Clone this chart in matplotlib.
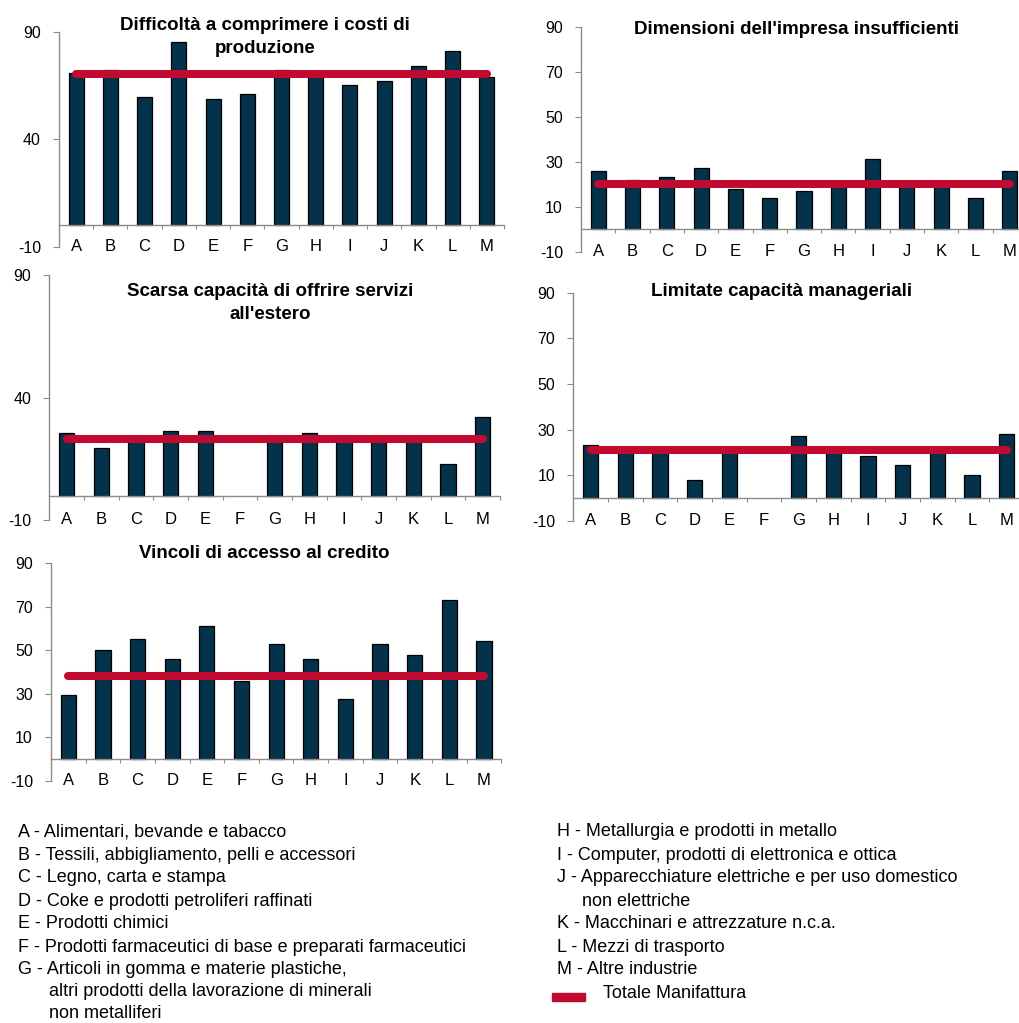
import numpy as np
import matplotlib
matplotlib.use('Agg')
import matplotlib.pyplot as plt
from matplotlib.patches import Rectangle

plt.rcParams['font.family'] = ['Liberation Sans', 'DejaVu Sans']

# ---------------- data ----------------
categories = ['A', 'B', 'C', 'D', 'E', 'F', 'G', 'H', 'I', 'J', 'K', 'L', 'M']

costi = [71, 72, 59.7, 85.4, 58.8, 60.8, 72, 70.5, 65, 67, 74, 81, 69]
costi_tot = 70.3

dimensioni = [26, 22, 23, 27, 18, 14, 17, 20, 31, 20, 20, 14, 26]
dimensioni_tot = 20.3

servizi = [25.5, 19.2, 23.5, 26.5, 26.5, np.nan, 24, 25.5, 24, 24, 24, 13, 32]
servizi_tot = 23.2

manageriali = [23, 21, 22.3, 8, 20.5, np.nan, 27, 22.3, 18.2, 14.5, 20.5, 10, 28]
manageriali_tot = 20.9

credito = [29.6, 50, 55, 46, 61, 35.7, 53, 46, 27.6, 53, 48, 73.3, 54.3]
credito_tot = 38.3

titles = [
    "Difficoltà a comprimere i costi di\nproduzione",
    "Dimensioni dell'impresa insufficienti",
    "Scarsa capacità di offrire servizi\nall'estero",
    "Limitate capacità manageriali",
    "Vincoli di accesso al credito",
]
yticks_sparse = [-10, 40, 90]
yticks_dense = [-10, 10, 30, 50, 70, 90]

legend_left = [
    "A - Alimentari, bevande e tabacco",
    "B - Tessili, abbigliamento, pelli e accessori",
    "C - Legno, carta e stampa",
    "D - Coke e prodotti petroliferi raffinati",
    "E - Prodotti chimici",
    "F - Prodotti farmaceutici di base e preparati farmaceutici",
    "G - Articoli in gomma e materie plastiche,",
    "altri prodotti della lavorazione di minerali",
    "non metalliferi",
]
legend_right = [
    "H - Metallurgia e prodotti in metallo",
    "I - Computer, prodotti di elettronica e ottica",
    "J - Apparecchiature elettriche e per uso domestico",
    "non elettriche",
    "K - Macchinari e attrezzature n.c.a.",
    "L - Mezzi di trasporto",
    "M - Altre industrie",
    "Totale Manifattura",
]

# ---------------- style ----------------
W, H = 1019, 1023
BAR = '#03324A'
RED = '#C00A30'
GRAY = '#8C8C8C'

fig = plt.figure(figsize=(W / 100, H / 100), dpi=100)


def fx(px):
    return px / W


def fy(py):
    return 1 - py / H


def panel(x0, x1, ytop, ybot, vals, tot, yticks, title, tx, ty):
    ax = fig.add_axes([fx(x0), fy(ybot), fx(x1 - x0), (ybot - ytop) / H])
    x = np.arange(len(categories))
    ax.bar(x, vals, width=0.44, color=BAR, edgecolor='black', linewidth=0.9, zorder=2)
    ax.plot(x, np.full(len(x), tot), color=RED, lw=5.8, solid_capstyle='round', zorder=3)
    ax.set_xlim(-0.5, len(categories) - 0.5)
    ax.set_ylim(-10, 90)
    ax.set_yticks(yticks)
    ax.set_yticklabels([str(v) for v in yticks], fontsize=11.5)
    ax.set_xticks(np.arange(0.5, len(categories), 1))
    ax.set_xticklabels([])
    for s in ['top', 'right']:
        ax.spines[s].set_visible(False)
    ax.spines['bottom'].set_position(('data', 0))
    ax.spines['left'].set_color(GRAY)
    ax.spines['bottom'].set_color(GRAY)
    ax.spines['left'].set_linewidth(1.0)
    ax.spines['bottom'].set_linewidth(1.0)
    ax.tick_params(axis='y', direction='out', length=4, color=GRAY, pad=9)
    ax.tick_params(axis='x', direction='out', length=3, color=GRAY)
    for i, c in enumerate(categories):
        ax.text(i, -10, c, ha='center', va='center', fontsize=12)
    fig.text(fx(tx), fy(ty), title, ha='center', va='center', fontsize=13.5,
             fontweight='bold', linespacing=1.5)
    return ax


panel(59, 504, 31.7, 246.7, costi, costi_tot, yticks_sparse, titles[0], 265, 37)
panel(581, 1027, 26.7, 251.7, dimensioni, dimensioni_tot, yticks_dense, titles[1], 797, 30)
panel(49.3, 500, 275, 520, servizi, servizi_tot, yticks_sparse, titles[2], 270, 303)
panel(573.3, 1024, 292.7, 520.7, manageriali, manageriali_tot, yticks_dense, titles[3], 782, 292)
panel(51, 501.3, 563.3, 780.7, credito, credito_tot, yticks_dense, titles[4], 264, 553)

# ---------------- legend ----------------
left_y = [832, 855, 878, 901, 924, 947, 970, 992, 1013]
left_x = [18, 18, 18, 18, 18, 18, 18, 49, 49]
for t, x, y in zip(legend_left, left_x, left_y):
    fig.text(fx(x), fy(y), t, ha='left', va='center', fontsize=13)

right_y = [832, 855, 878, 901, 924, 947, 970, 993]
right_x = [557, 557, 557, 582, 557, 557, 557, 603]
for t, x, y in zip(legend_right, right_x, right_y):
    fig.text(fx(x), fy(y), t, ha='left', va='center', fontsize=13)

fig.add_artist(Rectangle((fx(552), fy(1001)), fx(33), 8 / H, color=RED,
                         transform=fig.transFigure))

fig.savefig('out.png', dpi=100)
